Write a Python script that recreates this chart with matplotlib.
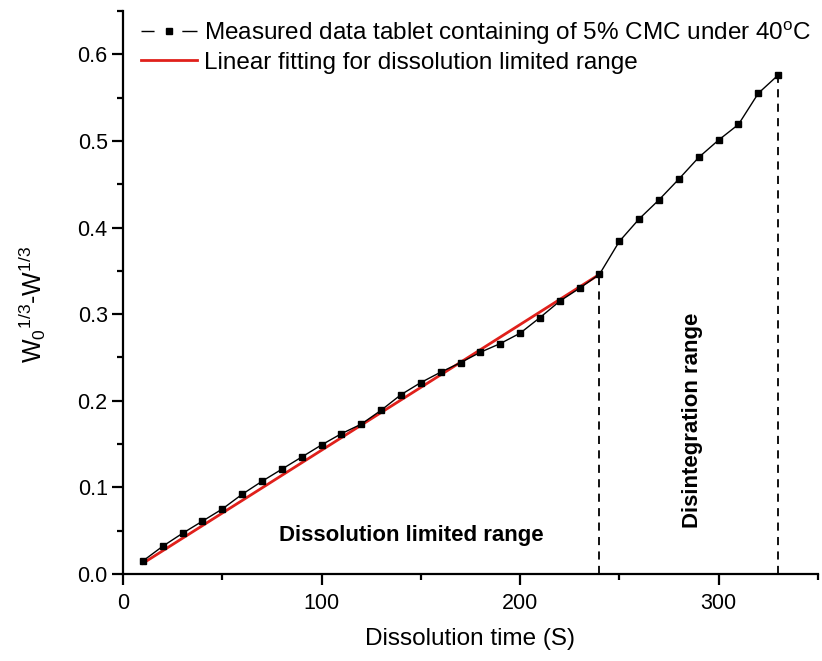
import numpy as np
import matplotlib
matplotlib.use("Agg")
import matplotlib.pyplot as plt
from matplotlib.ticker import MultipleLocator, FormatStrFormatter
from matplotlib.lines import Line2D

plt.rcParams['font.family'] = ['Liberation Sans', 'DejaVu Sans']
plt.rcParams['mathtext.fontset'] = 'custom'
plt.rcParams['mathtext.rm'] = 'Liberation Sans'
plt.rcParams['mathtext.it'] = 'Liberation Sans:italic'

# Dissolution time (s) and W0^(1/3) - W^(1/3)
time_s = [10, 20, 30, 40, 50, 60, 70, 80, 90, 100, 110, 120, 130, 140, 150, 160,
          170, 180, 190, 200, 210, 220, 230, 240, 250, 260, 270, 280, 290, 300,
          310, 320, 330]
cube_root_diff = [0.015, 0.032, 0.047, 0.061, 0.075, 0.092, 0.107, 0.121, 0.135,
                  0.149, 0.162, 0.173, 0.189, 0.207, 0.221, 0.233, 0.244, 0.256,
                  0.266, 0.278, 0.296, 0.315, 0.330, 0.346, 0.384, 0.410, 0.432,
                  0.456, 0.481, 0.501, 0.519, 0.555, 0.576]

# Linear fit over the dissolution-limited regime (end points of the fitted line)
fit_time = [10, 240]
fit_value = [0.0123, 0.346]

# Boundaries of the two regimes
regime_bounds = [240, 330]

t = np.array(time_s, dtype=float)
y = np.array(cube_root_diff)

fig = plt.figure(figsize=(8.22, 6.61), dpi=100)
ax = fig.add_axes([0.1496, 0.1316, 0.8454, 0.8518])

meas_label = r'Measured data tablet containing of 5% CMC under 40$^{\mathrm{o}}$C'
fit_label = 'Linear fitting for dissolution limited range'

ax.plot(t, y, color='black', lw=1.0, marker='s', markersize=5, zorder=3)
ax.plot(fit_time, fit_value, color='#e0201b', lw=2.0, zorder=2)

for xv in regime_bounds:
    ax.plot([xv, xv], [0, y[t == xv][0]], color='black', lw=1.3,
            linestyle=(0, (4.5, 3.5)))

ax.set_xlim(0, 350)
ax.set_ylim(0, 0.65)
ax.xaxis.set_major_locator(MultipleLocator(100))
ax.xaxis.set_minor_locator(MultipleLocator(50))
ax.yaxis.set_major_locator(MultipleLocator(0.1))
ax.yaxis.set_minor_locator(MultipleLocator(0.05))
ax.yaxis.set_major_formatter(FormatStrFormatter('%.1f'))

for s in ('top', 'right'):
    ax.spines[s].set_visible(False)
for s in ('left', 'bottom'):
    ax.spines[s].set_linewidth(1.6)

ax.tick_params(which='major', direction='out', length=8, width=1.6,
               labelsize=15.5)
ax.tick_params(axis='y', which='major', pad=3)
ax.tick_params(axis='x', which='major', pad=6)
ax.tick_params(which='minor', direction='out', length=4.5, width=1.6)

ax.set_xlabel('Dissolution time (S)', fontsize=17.5, labelpad=10)
ax.set_ylabel(r'W$_0$$^{1/3}$-W$^{1/3}$', fontsize=18)
ax.yaxis.set_label_coords(-0.108, 0.478)

ax.text(145, 0.045, 'Dissolution limited range', fontsize=16,
        fontweight='bold', ha='center', va='center')
ax.text(287, 0.178, 'Disintegration range', fontsize=16, fontweight='bold',
        rotation=90, ha='center', va='center')

# Legend keys: broken line around the marker for the measured series
meas_handle = Line2D([], [], color='black', lw=1.0, marker='s', markersize=5,
                     linestyle=(0, (9.4, 20, 11, 100)))
fit_handle = Line2D([], [], color='#e0201b', lw=2.0)
ax.legend([meas_handle, fit_handle], [meas_label, fit_label],
          loc='upper left', bbox_to_anchor=(0.0015, 1.015), frameon=False,
          fontsize=17.5, handlelength=2.3, handletextpad=0.3,
          labelspacing=0.2, numpoints=1, borderaxespad=0.3)

fig.savefig('out.png', dpi=100)
